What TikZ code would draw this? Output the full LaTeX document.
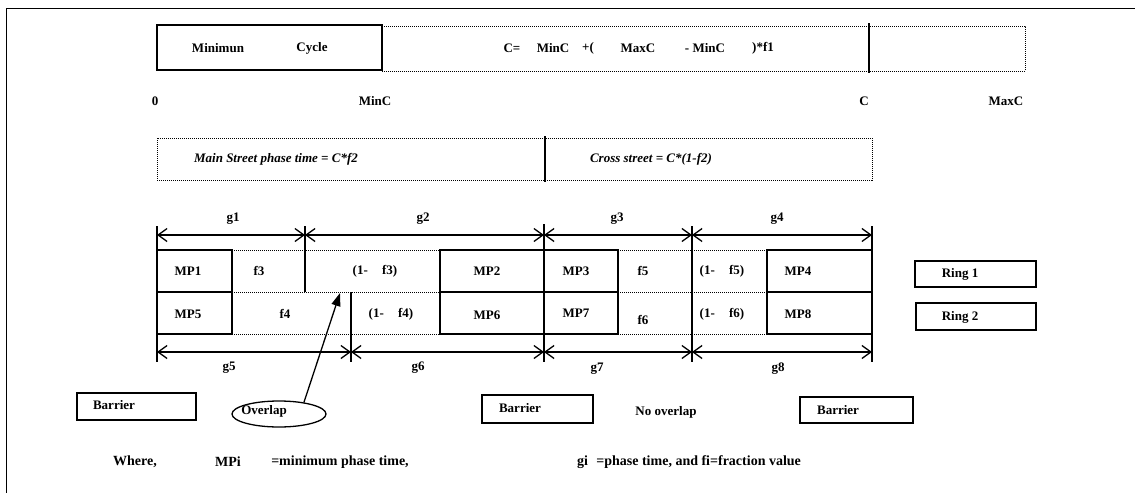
\documentclass[tikz,border=0pt]{standalone}
\usepackage{fontspec}
\setmainfont{Liberation Serif}
\usetikzlibrary{arrows.meta,shapes.geometric}
\begin{document}
\begin{tikzpicture}[x=1pt,y=-1pt,
  lbl/.style={font=\fontsize{13}{15}\selectfont\bfseries, inner sep=0pt},
  ilbl/.style={font=\fontsize{13}{15}\selectfont\bfseries\itshape, inner sep=0pt},
  blbl/.style={font=\fontsize{14}{16}\selectfont\bfseries, inner sep=0pt},
  solidbox/.style={draw, line width=1.3pt, inner sep=0pt},
  dotline/.style={line width=0.8pt, dash pattern=on 1pt off 1pt},
  thickline/.style={line width=2.2pt},
  tick/.style={line width=1.3pt},
  dim/.style={line width=1.3pt, {Straight Barb[length=9pt,width=13pt,line width=1.3pt]}-{Straight Barb[length=9pt,width=13pt,line width=1.3pt]}},
  ptr/.style={line width=1.3pt, -{Triangle[length=13pt,width=9pt]}},
]
\useasboundingbox (0,0) rectangle (1135,493);
% frame (top and left edge)
\draw[line width=1pt] (1135,8) -- (6,8) -- (6,493);

% ---- row 1 : cycle
\node[solidbox, minimum width=225pt, minimum height=45pt] (minbox) at (269.5,47.5) {};
\node[lbl] (tmin) at (218,48) {Minimun};
\node[lbl] (tcyc) at (312,48) {Cycle};
\coordinate (r1a) at (382,26);
\coordinate (r1b) at (1025,26);
\coordinate (r1c) at (1025,71);
\coordinate (r1d) at (382,71);
\draw[dotline] (r1a) -- (r1b) -- (r1c) -- (r1d);
\coordinate (ctop) at (869,23);
\coordinate (cbot) at (869,73);
\draw[thickline] (ctop) -- (cbot);
\node[lbl] (eq1) at (512,48) {C=};
\node[lbl] (eq2) at (553,48) {MinC};
\node[lbl] (eq3) at (588,48) {+(};
\node[lbl] (eq4) at (638,48) {MaxC};
\node[lbl] (eq5) at (705,48) {- MinC};
\node[lbl] (eq6) at (763,48) {)*f1};

\node[lbl] (l0) at (155,101) {0};
\node[lbl] (lminc) at (375,101) {MinC};
\node[lbl] (lc) at (864,101) {C};
\node[lbl] (lmaxc) at (1006,101) {MaxC};

% ---- row 2 : split
\draw[dotline] (157,138) rectangle (872,180);
\coordinate (stop) at (545,136);
\coordinate (sbot) at (545,182);
\draw[thickline] (stop) -- (sbot);
\node[ilbl] (tmain) at (276,159) {Main Street phase time = C*f2};
\node[ilbl] (tcross) at (651,159) {Cross street = C*(1-f2)};

% ---- ring diagram: ticks
\coordinate (t0a) at (157,226); \coordinate (t0b) at (157,362);
\coordinate (t1a) at (305,226); \coordinate (t1b) at (305,292);
\coordinate (t2a) at (351,292); \coordinate (t2b) at (351,362);
\coordinate (t3a) at (544,224); \coordinate (t3b) at (544,362);
\coordinate (t4a) at (692,226); \coordinate (t4b) at (692,362);
\coordinate (t5a) at (872,226); \coordinate (t5b) at (872,362);
\foreach \a/\b in {t0a/t0b,t1a/t1b,t2a/t2b,t3a/t3b,t4a/t4b,t5a/t5b}
  \draw[tick] (\a) -- (\b);

% dimension arrows
\coordinate (u0) at (157,235); \coordinate (u1) at (305,235);
\coordinate (u2) at (544,235); \coordinate (u3) at (692,235);
\coordinate (u4) at (872,235);
\coordinate (d0) at (157,352); \coordinate (d1) at (351,352);
\coordinate (d2) at (544,352); \coordinate (d3) at (692,352);
\coordinate (d4) at (872,352);
\draw[dim] (u0) -- (u1);
\draw[dim] (u1) -- (u2);
\draw[dim] (u2) -- (u3);
\draw[dim] (u3) -- (u4);
\draw[dim] (d0) -- (d1);
\draw[dim] (d1) -- (d2);
\draw[dim] (d2) -- (d3);
\draw[dim] (d3) -- (d4);
\node[lbl] (g1) at (233,219) {g1};
\node[lbl] (g2) at (423,219) {g2};
\node[lbl] (g3) at (617,219) {g3};
\node[lbl] (g4) at (777,219) {g4};
\node[lbl] (g5) at (229,368) {g5};
\node[lbl] (g6) at (418,368) {g6};
\node[lbl] (g7) at (597,369) {g7};
\node[lbl] (g8) at (778,369) {g8};

% dotted row lines
\foreach \y in {250,292,334} {
  \draw[dotline] (232,\y) -- (440,\y);
  \draw[dotline] (618,\y) -- (767,\y);
}

% minimum phase boxes
\node[solidbox, minimum width=75pt, minimum height=42pt] (mp1) at (194.5,271) {};
\node[solidbox, minimum width=75pt, minimum height=42pt] (mp5) at (194.5,313) {};
\node[solidbox, minimum width=104pt, minimum height=42pt] (mp2) at (492,271) {};
\node[solidbox, minimum width=104pt, minimum height=42pt] (mp6) at (492,313) {};
\node[solidbox, minimum width=74pt, minimum height=42pt] (mp3) at (581,271) {};
\node[solidbox, minimum width=74pt, minimum height=42pt] (mp7) at (581,313) {};
\node[solidbox, minimum width=105pt, minimum height=42pt] (mp4) at (819.5,271) {};
\node[solidbox, minimum width=105pt, minimum height=42pt] (mp8) at (819.5,313) {};

\node[lbl] (tmp1) at (188,271) {MP1};
\node[lbl] (tf3) at (259,271) {f3};
\node[lbl] (t1f3) at (375,271) {(1-\hspace{1.1em}f3)};
\node[lbl] (tmp2) at (487,271) {MP2};
\node[lbl] (tmp3) at (576,271) {MP3};
\node[lbl] (tf5) at (643,271) {f5};
\node[lbl] (t1f5) at (722,271) {(1-\hspace{1.1em}f5)};
\node[lbl] (tmp4) at (798,271) {MP4};
\node[lbl] (tmp5) at (188,314) {MP5};
\node[lbl] (tf4) at (285,314) {f4};
\node[lbl] (t1f4) at (391,314) {(1-\hspace{1.1em}f4)};
\node[lbl] (tmp6) at (487,315) {MP6};
\node[lbl] (tmp7) at (576,313) {MP7};
\node[lbl] (tf6) at (643,320) {f6};
\node[lbl] (t1f6) at (722,314) {(1-\hspace{1.1em}f6)};
\node[lbl] (tmp8) at (798,314) {MP8};

% rings
\node[solidbox, minimum width=121pt, minimum height=26pt] (ring1) at (975.5,274) {};
\node[solidbox, minimum width=120pt, minimum height=27pt] (ring2) at (976,316.5) {};
\node[lbl] (tr1) at (960,274) {Ring 1};
\node[lbl] (tr2) at (960,317) {Ring 2};

% barriers
\node[solidbox, minimum width=119pt, minimum height=27pt] (bar1) at (136.5,406.5) {};
\node[solidbox, minimum width=111pt, minimum height=28pt] (bar2) at (537.5,409) {};
\node[solidbox, minimum width=113pt, minimum height=26pt] (bar3) at (856.5,410) {};
\node[lbl] (tb1) at (114,405) {Barrier};
\node[lbl] (tb2) at (520,408) {Barrier};
\node[lbl] (tb3) at (838,410) {Barrier};
\node[lbl] (tno) at (666,412) {No overlap};

% overlap
\node[draw, line width=1.3pt, ellipse, minimum width=94pt, minimum height=26pt, inner sep=0pt] (ov) at (279,414) {};
\node[lbl] (tov) at (264,411) {Overlap};
\coordinate (ovtip) at (340,293);
\draw[ptr] (ov.25) -- (ovtip);

% legend
\node[blbl] (w1) at (135,462) {Where,};
\node[blbl] (w2) at (228,462) {MPi};
\node[blbl] (w3) at (340,462) {=minimum phase time,};
\node[blbl] (w4) at (689,462) {gi\hspace{0.6em}=phase time, and fi=fraction value};
\end{tikzpicture}
\end{document}
